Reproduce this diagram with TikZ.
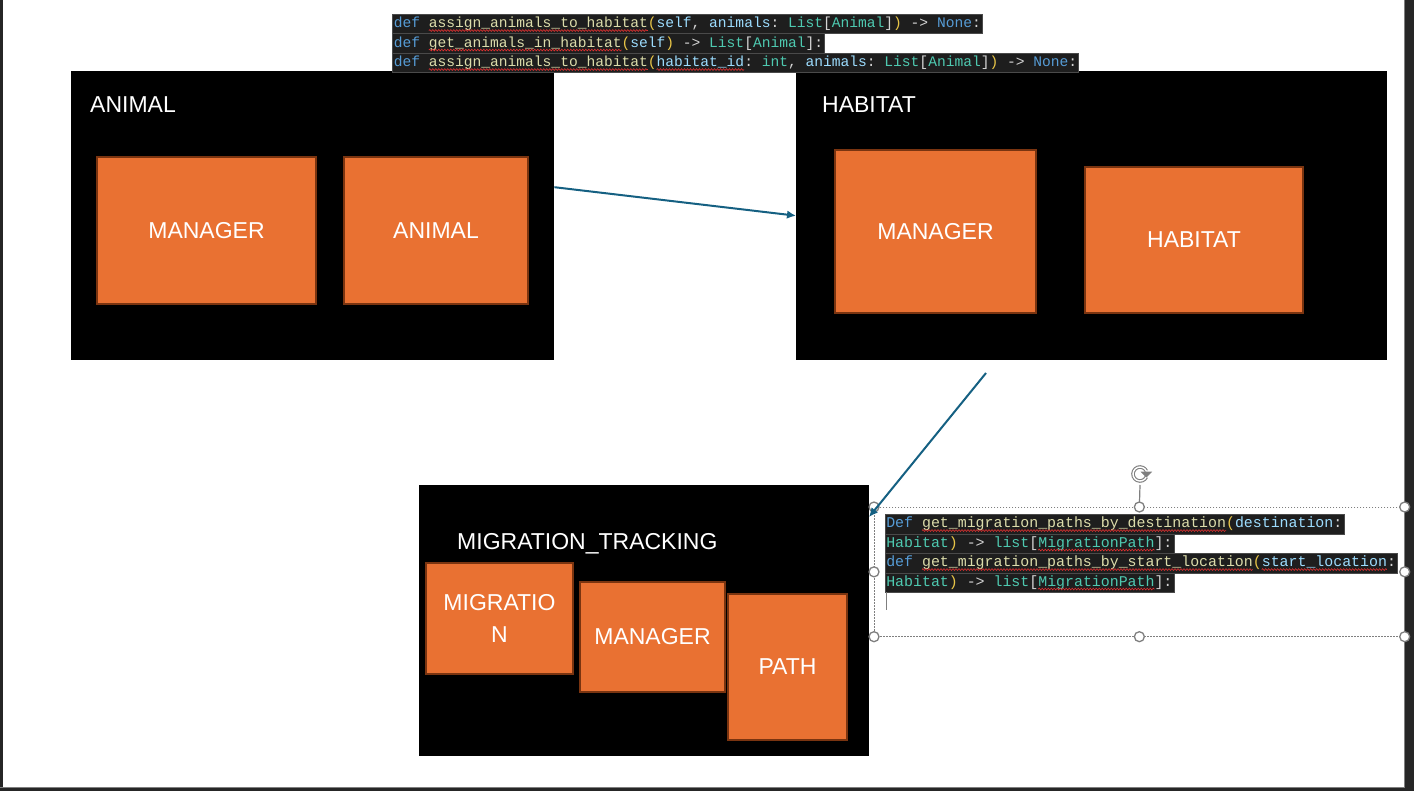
\documentclass[tikz,border=0pt]{standalone}
\usepackage{fontspec}
\setmainfont{Liberation Sans}
\setmonofont{Liberation Mono}
\usetikzlibrary{arrows.meta, positioning, decorations.pathmorphing}
\definecolor{part}{HTML}{E97132}
\definecolor{partedge}{HTML}{7A3410}
\definecolor{link}{HTML}{156082}
\definecolor{codebg}{HTML}{1E1E1E}
\definecolor{codeedge}{HTML}{4A4A4A}
\definecolor{ckwc}{HTML}{569CD6}
\definecolor{cfnc}{HTML}{DCDCAA}
\definecolor{cpac}{HTML}{9CDCFE}
\definecolor{ctyc}{HTML}{4EC9B0}
\definecolor{cpuc}{HTML}{D4D4D4}
\definecolor{cbrc}{HTML}{E8C547}
\definecolor{edgebar}{HTML}{262626}
\definecolor{handle}{HTML}{7F7F7F}
\definecolor{spell}{HTML}{E03030}
\newcommand\ckw[1]{\textcolor{ckwc}{#1}}
\newcommand\cfn[1]{\textcolor{cfnc}{#1}}
\newcommand\cpa[1]{\textcolor{cpac}{#1}}
\newcommand\cty[1]{\textcolor{ctyc}{#1}}
\newcommand\cbr[1]{\textcolor{cbrc}{#1}}

\begin{document}
\begin{tikzpicture}[x=1pt, y=-1pt, >={Latex[length=9pt,width=8.5pt]},
        grp/.style={fill=black, inner sep=0, anchor=north west},
        pt/.style={draw=partedge, fill=part, line width=1.5pt, text=white,
            font=\fontsize{23}{32}\selectfont, align=center, inner sep=0},
        hd/.style={text=white, font=\fontsize{23}{27}\selectfont,
            anchor=base west, inner sep=0},
        cl/.style={fill=codebg, draw=codeedge, line width=0.6pt, anchor=north west,
            inner xsep=1.5pt, inner ysep=0, minimum height=19.5pt,
            text height=11pt, text depth=4pt, text=cpuc},
        hdl/.style={circle, draw=handle, fill=white, line width=1.3pt,
            minimum size=10pt, inner sep=0},
        wavy/.style={spell, line width=0.6pt, decorate,
            decoration={snake, amplitude=0.9pt, segment length=3pt}},
        ln/.style={link, line width=2pt}]
    \useasboundingbox (0,0) rectangle (1414,791);
    % window edges
    \fill[edgebar] (0,0) rectangle (2.5,791);
    \fill[edgebar] (1405,0) rectangle (1414,791);
    \fill[edgebar] (0,788) rectangle (1414,791);
    \draw[handle, line width=1pt] (1404.5,0) -- (1404.5,787.5) -- (0,787.5);

    % modules
    \node(anm)[grp, minimum width=483pt, minimum height=289pt] at (71,71) {};
    \node(hab)[grp, minimum width=591pt, minimum height=289pt] at (796,71) {};
    \node(mig)[grp, minimum width=450pt, minimum height=271pt] at (419,485) {};
    \node[hd] at (90,112.5) {ANIMAL};
    \node[hd] at (822,112.5) {HABITAT};
    \node[hd] at (457,549.5) {MIGRATION\_TRACKING};

    \node(am)[pt, minimum width=219pt, minimum height=147pt] at (206.5,230.5) {MANAGER};
    \node(aa)[pt, minimum width=184pt, minimum height=147pt] at (436,230.5) {ANIMAL};
    \node(hm)[pt, minimum width=201pt, minimum height=163pt] at (935.5,231.5) {MANAGER};
    \node(hh)[pt, minimum width=218pt, minimum height=146pt] at (1194,240) {HABITAT};
    \node(mi)[pt, minimum width=147pt, minimum height=111pt] at (499.5,618.5) {MIGRATIO\\N};
    \node(mm)[pt, minimum width=145pt, minimum height=110pt] at (652.5,637) {MANAGER};
    \node(mp)[pt, minimum width=119pt, minimum height=146pt] at (787.5,667) {PATH};

    % code pasted above
    \begin{scope}[every node/.append style={font=\fontsize{14.6}{16}\ttfamily}]
    \node(c1)[cl] at (392,14) {\ckw{def} \cfn{assign\_animals\_to\_habitat}\cbr{(}\cpa{self}, \cpa{animals}: \cty{List}[\cty{Animal}]\cbr{)} -> \ckw{None}:};
    \node(c2)[cl] at (392,33.5) {\ckw{def} \cfn{get\_animals\_in\_habitat}\cbr{(}\cpa{self}\cbr{)} -> \cty{List}[\cty{Animal}]:};
    \node(c3)[cl] at (392,53) {\ckw{def} \cfn{assign\_animals\_to\_habitat}\cbr{(}\cpa{habitat\_id}: \cty{int}, \cpa{animals}: \cty{List}[\cty{Animal}]\cbr{)} -> \ckw{None}:};
    \end{scope}
    \foreach \n/\s/\l in {c1/4/25, c2/4/22, c3/4/25, c3/30/10}
        \draw[wavy] ([xshift=1.8pt+\s*8.76pt, yshift=-3pt]\n.base west) -- ++(\l*8.76,0);

    % selected text box
    \node(sel)[draw=handle, dash pattern=on 1.5pt off 1.5pt, line width=0.7pt,
        anchor=north west, minimum width=530pt, minimum height=129pt, inner sep=0] at (874,507) {};
    \begin{scope}[every node/.append style={font=\fontsize{14.9}{16}\ttfamily}]
    \node(t1)[cl] at (884.5,514) {\ckw{Def} \cfn{get\_migration\_paths\_by\_destination}\cbr{(}\cpa{destination}:};
    \node(t2)[cl] at (884.5,533.5) {\cty{Habitat}\cbr{)} -> \cty{list}[\cty{MigrationPath}]:};
    \node(t3)[cl] at (884.5,553) {\ckw{def} \cfn{get\_migration\_paths\_by\_start\_location}\cbr{(}\cpa{start\_location}:};
    \node(t4)[cl] at (884.5,572.5) {\cty{Habitat}\cbr{)} -> \cty{list}[\cty{MigrationPath}]:};
    \end{scope}
    \foreach \n/\s/\l in {t1/4/34, t2/17/13, t3/4/37, t3/42/14, t4/17/13}
        \draw[wavy] ([xshift=1.8pt+\s*8.94pt, yshift=-3pt]\n.base west) -- ++(\l*8.94,0);
    \draw[handle, line width=0.8pt] (886,592) -- (886,610);
    \coordinate(rot) at (1140,474);
    \draw[handle, line width=1.2pt] (sel.north) -- (1140,485);
    \draw[draw=handle, double=white, double distance=1.4pt, line width=1.1pt]
        ([shift={(25:7)}]rot) arc[start angle=25, end angle=335, radius=7];
    \filldraw[handle, line width=0.6pt] ([shift={(335:7)}]rot) ++(-5,1) -- ++(10,0) -- ++(-5,5) -- cycle;
    \foreach \a in {north west, north, north east, west, east, south west, south, south east}
        \node[hdl] at (sel.\a) {};

    % links
    \coordinate(hs) at (986,373);
    \coordinate(ht) at (869,517);
    \draw[ln,->] ([yshift=28.5pt]anm.east) -- (hab.west);
    \draw[ln,->] (hs) -- (ht);
\end{tikzpicture}
\end{document}
